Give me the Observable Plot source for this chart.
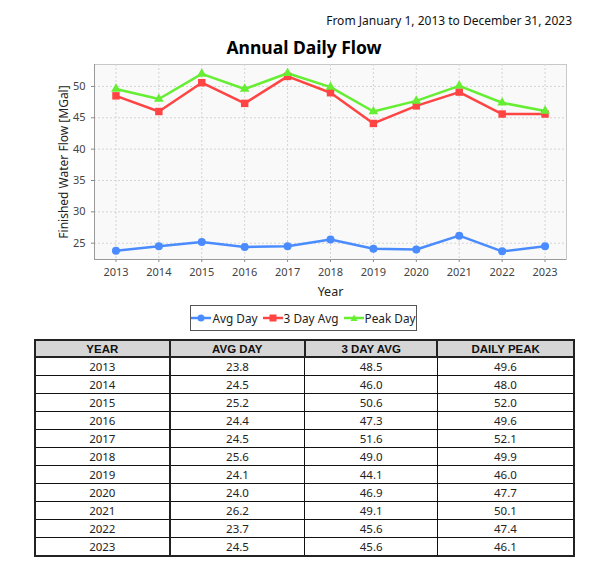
<!DOCTYPE html>
<html>
<head>
<meta charset="utf-8">
<script src="https://cdn.jsdelivr.net/npm/d3@7"></script>
<script src="https://cdn.jsdelivr.net/npm/@observablehq/plot@0.6"></script>
<style>
  html, body { margin: 0; padding: 0; background: #fff; }
  body { width: 608px; height: 573px; position: relative; overflow: hidden; font-family: "Noto Sans", sans-serif; }
  .abs { position: absolute; }
  #subtitle { right: 36px; top: 12px; font-size: 12px; color: #111; white-space: nowrap; }
  #title { left: 0; width: 608px; top: 35px; text-align: center; font-size: 17.5px; font-weight: bold; color: #000; }
  #chart { left: 0; top: 55px; }
  #legend { left: 190px; top: 305px; width: 227px; height: 26px; border: 1px solid #555; box-sizing: border-box;
            display: flex; align-items: center; justify-content: center; gap: 5px; font-size: 11.8px; color: #222; white-space: nowrap; }
  #legend .item { display: flex; align-items: center; gap: 1px; white-space: nowrap; flex: none; }
  table { position: absolute; left: 34px; top: 339px; width: 541px; border-collapse: collapse; font-size: 11.5px; }
  th { background: #d6d6d6; font-family: "Liberation Sans", Arial, sans-serif; font-weight: bold; font-size: 11.5px;
       border: 2px solid #222; height: 15px; padding: 0; text-align: center; color: #111; }
  td { border: 1px solid #111; height: 17px; padding: 0; text-align: center; color: #222; line-height: 15px; }
  tr td:first-child { border-left: 2px solid #222; }
  tr td:last-child { border-right: 2px solid #222; }
  tr td:nth-child(2) { border-left: 2px solid #222; }
  tbody tr:last-child td { border-bottom: 2px solid #222; }
</style>
</head>
<body>
<div id="subtitle" class="abs">From January 1, 2013 to December 31, 2023</div>
<div id="title" class="abs">Annual Daily Flow</div>
<div id="chart" class="abs"></div>
<div id="legend" class="abs"></div>
<table id="tbl"></table>
<script>
const years = [2013, 2014, 2015, 2016, 2017, 2018, 2019, 2020, 2021, 2022, 2023];
const avgDay = [23.8, 24.5, 25.2, 24.4, 24.5, 25.6, 24.1, 24.0, 26.2, 23.7, 24.5];
const threeDayAvg = [48.5, 46.0, 50.6, 47.3, 51.6, 49.0, 44.1, 46.9, 49.1, 45.6, 45.6];
const peakDay = [49.6, 48.0, 52.0, 49.6, 52.1, 49.9, 46.0, 47.7, 50.1, 47.4, 46.1];
const seriesNames = ["Avg Day", "3 Day Avg", "Peak Day"];
const seriesColors = ["#4a8cff", "#ff4444", "#66ee33"];
const seriesSymbols = ["circle", "square", "triangle"];
const yTicks = [25, 30, 35, 40, 45, 50];
const tableHeaders = ["YEAR", "AVG DAY", "3 DAY AVG", "DAILY PEAK"];

const seriesValues = [avgDay, threeDayAvg, peakDay];
const data = [];
seriesNames.forEach((name, i) => {
  years.forEach((yr, j) => data.push({series: name, year: yr, value: seriesValues[i][j]}));
});

const colorScale = {domain: seriesNames, range: seriesColors};

const chart = Plot.plot({
  width: 608,
  height: 245,
  marginLeft: 94,
  marginRight: 42,
  marginTop: 9,
  marginBottom: 41,
  style: {fontFamily: "Noto Sans, sans-serif", fontSize: "11px", color: "#444", background: "transparent"},
  x: {domain: [2012.5, 2023.5], ticks: years, tickFormat: "d", label: null, tickSize: 3, tickPadding: 4},
  y: {domain: [22.4, 53.5], ticks: yTicks, label: null, tickSize: 3, tickPadding: 3},
  color: colorScale,
  marks: [
    Plot.frame({fill: "#f9f9f9", stroke: "#c8c8c8"}),
    Plot.gridX(years, {stroke: "#d4d4d4", strokeOpacity: 1, strokeDasharray: "2,2"}),
    Plot.gridY(yTicks, {stroke: "#d4d4d4", strokeOpacity: 1, strokeDasharray: "2,2"}),
    Plot.axisX({ticks: years, tickFormat: "d", tickSize: 3, stroke: "#888", fill: "#444", fontSize: 11, label: null}),
    Plot.axisY({ticks: yTicks, tickSize: 3, stroke: "#888", fill: "#444", fontSize: 11, label: null}),
    Plot.ruleY([22.4], {stroke: "#999"}),
    Plot.ruleX([2012.5], {stroke: "#999"}),
    Plot.line(data, {x: "year", y: "value", z: "series", stroke: "series", strokeWidth: 2.5}),
    Plot.dot(data.filter(d => d.series === "Avg Day"), {x: "year", y: "value", fill: "series", r: 4, symbol: "circle"}),
    Plot.dot(data.filter(d => d.series === "3 Day Avg"), {x: "year", y: "value", fill: "series", r: 4.2, symbol: "square"}),
    Plot.dot(data.filter(d => d.series === "Peak Day"), {x: "year", y: "value", fill: "series", r: 3.6, symbol: "triangle"}),
    Plot.text(["Year"], {frameAnchor: "bottom", dy: 36, fontSize: 12.5, fill: "#222"}),
    Plot.text(["Finished Water Flow [MGal]"], {frameAnchor: "left", textAnchor: "middle", dx: -30, rotate: -90, fontSize: 12, fill: "#222"})
  ]
});
document.getElementById("chart").appendChild(chart);

// legend
const legend = document.getElementById("legend");
const symPaths = {
  circle: '<circle cx="10" cy="5" r="3.5"/>',
  square: '<rect x="6.5" y="1.5" width="7" height="7"/>',
  triangle: '<path d="M10,1.5 L13.5,8 L6.5,8 Z"/>'
};
seriesNames.forEach((name, i) => {
  const item = document.createElement("div");
  item.className = "item";
  item.innerHTML = `<svg width="20" height="10"><line x1="0" x2="20" y1="5" y2="5" stroke="${seriesColors[i]}" stroke-width="2.5"/><g fill="${seriesColors[i]}">${symPaths[seriesSymbols[i]]}</g></svg><span>${name}</span>`;
  legend.appendChild(item);
});

// table
const tbl = document.getElementById("tbl");
const colWidths = [135, 136, 133, 137];
let html = "<thead><tr>" + tableHeaders.map((h, i) => `<th style="width:${colWidths[i]}px">${h}</th>`).join("") + "</tr></thead><tbody>";
years.forEach((yr, j) => {
  html += `<tr><td>${yr}</td><td>${avgDay[j].toFixed(1)}</td><td>${threeDayAvg[j].toFixed(1)}</td><td>${peakDay[j].toFixed(1)}</td></tr>`;
});
html += "</tbody>";
tbl.innerHTML = html;
</script>
</body>
</html>
